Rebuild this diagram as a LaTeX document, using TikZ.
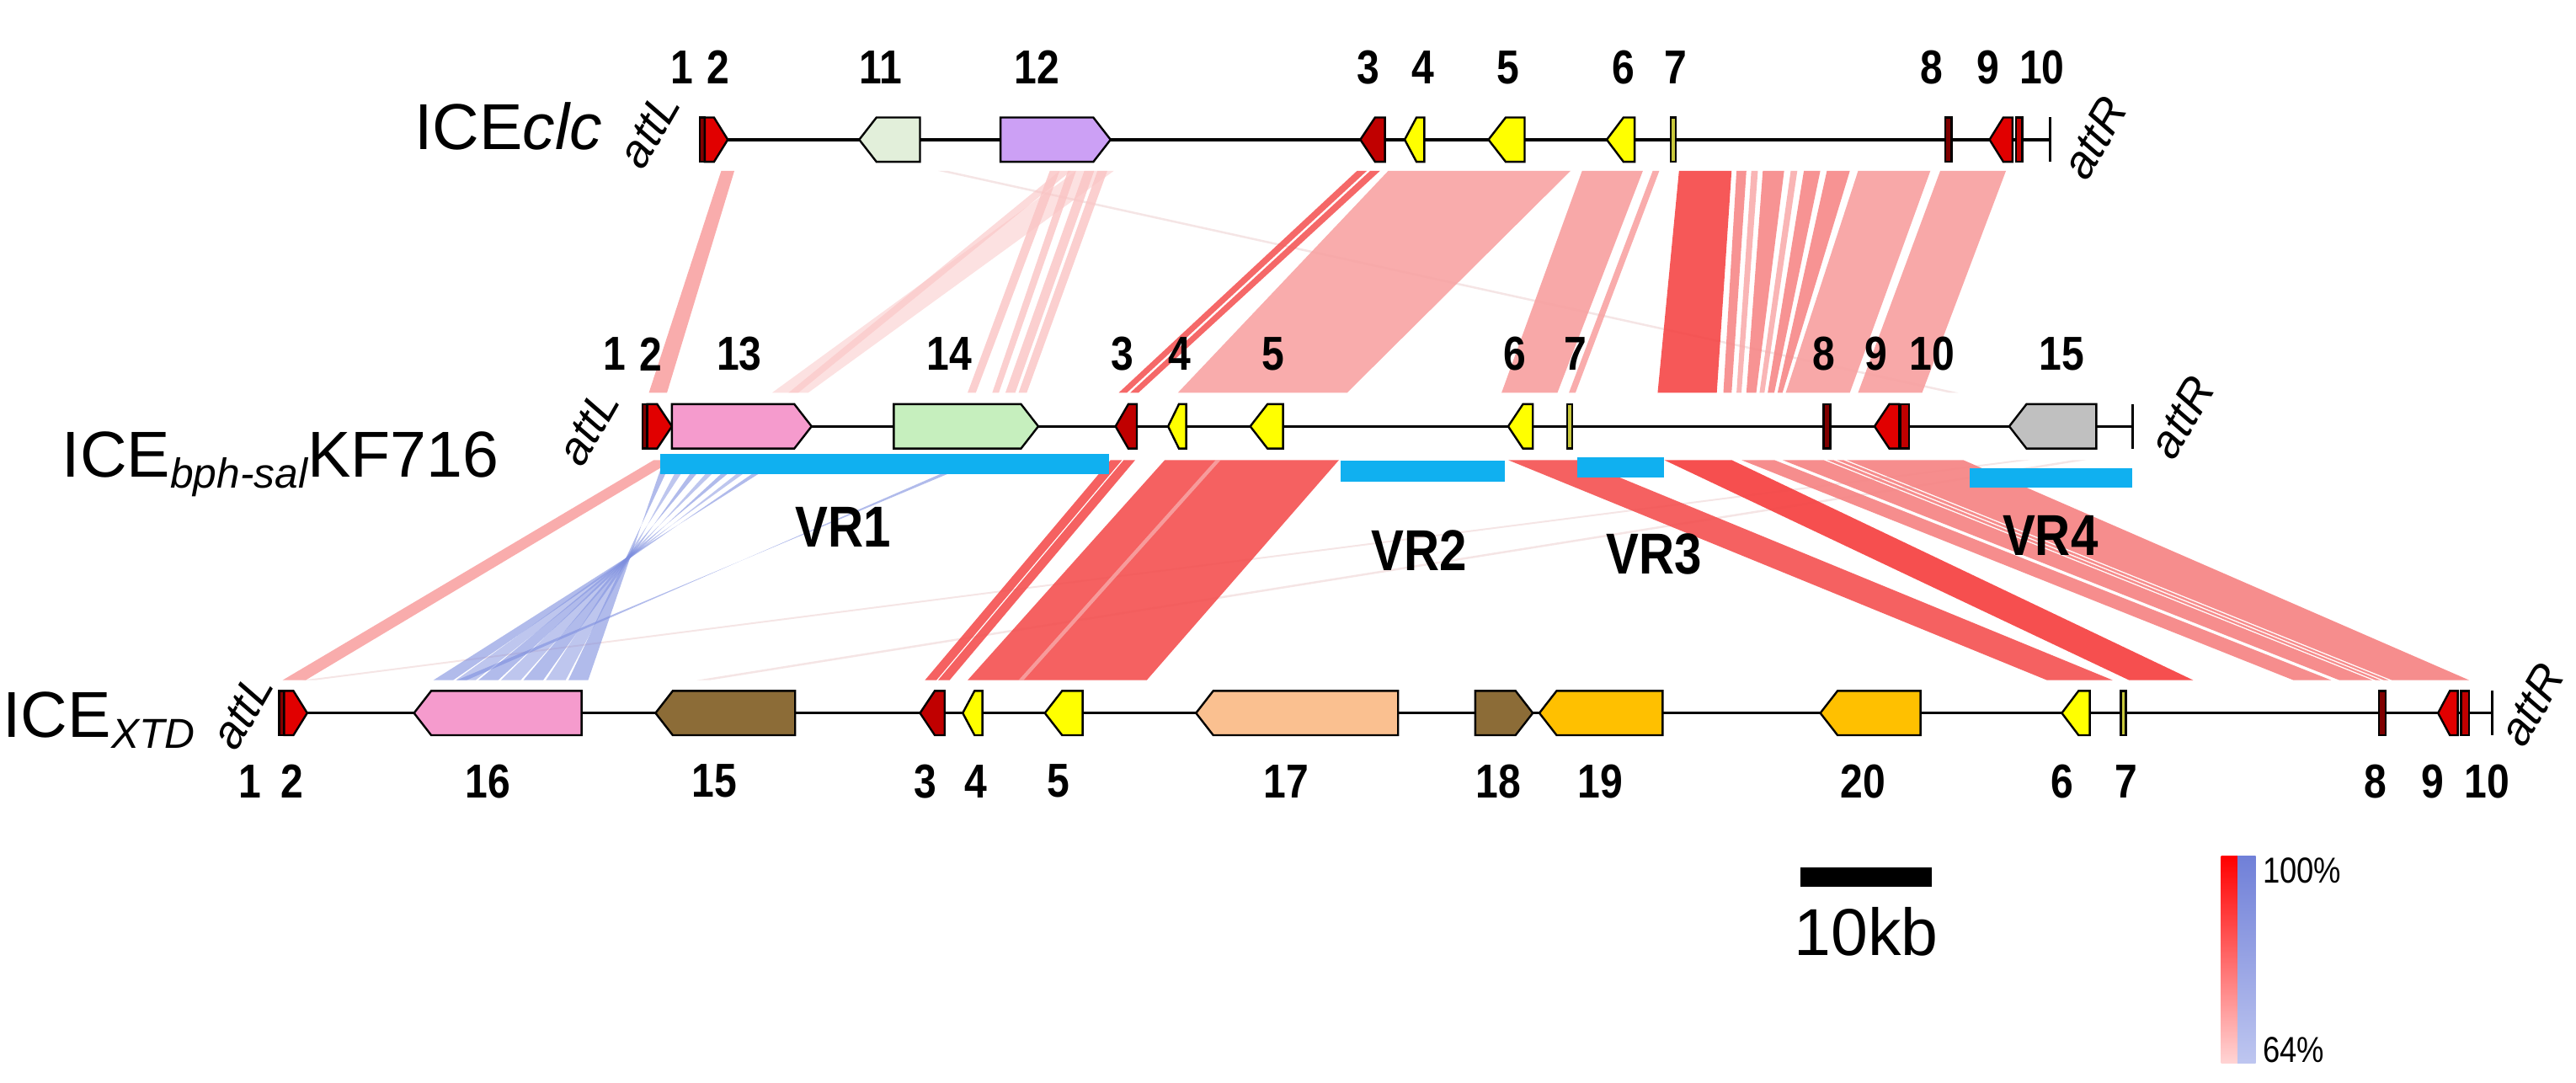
\documentclass[tikz,border=0pt]{standalone}
\usepackage{fontspec}
\setmainfont{Liberation Sans}
\newfontfamily\numfont{Liberation Sans}[FakeStretch=0.85]
\definecolor{rpink}{RGB}{248,163,163}
\definecolor{rlight}{RGB}{250,195,195}
\definecolor{rfaint}{RGB}{238,212,212}
\definecolor{rmid}{RGB}{246,135,135}
\definecolor{rred}{RGB}{244,88,88}
\definecolor{rbright}{RGB}{245,70,70}
\definecolor{bblue}{RGB}{125,142,222}
\definecolor{vrblue}{RGB}{16,176,240}
\definecolor{gred}{RGB}{225,0,0}
\definecolor{gdark}{RGB}{192,0,0}
\definecolor{gmaroon}{RGB}{128,0,0}
\definecolor{gyel}{RGB}{255,255,0}
\definecolor{golive}{RGB}{200,200,60}
\definecolor{gmint}{RGB}{226,239,218}
\definecolor{gpurp}{RGB}{204,160,245}
\definecolor{gpink}{RGB}{245,155,205}
\definecolor{ggreen}{RGB}{198,239,190}
\definecolor{ggray}{RGB}{192,192,192}
\definecolor{gbrown}{RGB}{140,108,55}
\definecolor{gpeach}{RGB}{250,192,144}
\definecolor{ggold}{RGB}{255,192,0}
\definecolor{legpink}{RGB}{255,212,212}
\definecolor{legbtop}{RGB}{112,128,216}
\definecolor{legbbot}{RGB}{190,198,240}
\newcommand{\geneR}[4]{%
  \pgfmathsetmacro\tiplen{min(10.5,0.6*(#2-#1))}%
  \filldraw[gene,fill=#4] (#1,#3-13.5) -- ({#2-\tiplen},#3-13.5) -- (#2,#3) -- ({#2-\tiplen},#3+13.5) -- (#1,#3+13.5) -- cycle;}
\newcommand{\geneL}[4]{%
  \pgfmathsetmacro\tiplen{min(10.5,0.6*(#2-#1))}%
  \filldraw[gene,fill=#4] (#2,#3-13.5) -- ({#1+\tiplen},#3-13.5) -- (#1,#3) -- ({#1+\tiplen},#3+13.5) -- (#2,#3+13.5) -- cycle;}
\newcommand{\geneT}[4]{\filldraw[gene,fill=#4] (#1,#3-13.5) rectangle (#2,#3+13.5);}
\newcommand{\ribT}[5]{\fill[#1] (#2,104) -- (#3,104) -- (#5,239) -- (#4,239) -- cycle;}
\newcommand{\ribB}[5]{\fill[#1] (#2,280) -- (#3,280) -- (#5,414) -- (#4,414) -- cycle;}
\newcommand{\ribX}[5]{\fill[#1] (#2,280) -- (#3,280) -- (#4,414) -- (#5,414) -- cycle;}
\begin{document}
\begin{tikzpicture}[x=0.02cm,y=-0.02cm,
  gene/.style={draw=black,line width=0.7pt,line join=miter},
  trk/.style={line width=1pt,black},
  num/.style={font={\numfont\bfseries\fontsize{16.5}{18}\selectfont},inner sep=0pt},
  vrl/.style={font={\numfont\bfseries\fontsize{20}{22}\selectfont},inner sep=0pt},
  att/.style={font={\itshape\fontsize{16}{18}\selectfont},inner sep=0pt,rotate=60},
  ice/.style={font={\fontsize{22.5}{26}\selectfont},inner sep=0pt},
  vrbar/.style={fill=vrblue}]
\useasboundingbox (0,0) rectangle (1568,659);

% ---------- ribbons: ICEclc -> KF716 ----------
\ribT{rfaint,fill opacity=0.6}{571}{577}{1186}{1192}
\ribT{rpink,fill opacity=0.9}{439}{447}{395}{406}
\ribT{rlight,fill opacity=0.5}{655}{678}{470}{492}
\ribT{rlight,fill opacity=0.6}{645}{652}{480}{486}
\ribT{rlight,fill opacity=0.8}{639}{645}{589}{594}
\ribT{rlight,fill opacity=0.8}{650}{655}{604}{608}
\ribT{rlight,fill opacity=0.8}{660}{666}{612}{618}
\ribT{rlight,fill opacity=0.8}{668}{674}{620}{625}
\ribT{rred,fill opacity=0.9}{826}{832}{681}{686}
\ribT{rred,fill opacity=0.9}{834}{840}{688}{693}
\ribT{rpink,fill opacity=0.9}{845}{956}{717}{820}
\ribT{rpink,fill opacity=0.95}{963}{1000}{914}{948}
\ribT{rpink,fill opacity=0.9}{1006}{1010}{955}{959}
\ribT{rbright,fill opacity=0.9}{1022}{1054}{1009}{1045}
\ribT{rmid,fill opacity=0.9}{1057}{1063}{1049}{1054}
\ribT{rpink,fill opacity=0.8}{1066}{1070}{1057}{1060}
\ribT{rmid,fill opacity=0.9}{1073}{1086}{1063}{1069}
\ribT{rpink,fill opacity=0.8}{1090}{1094}{1071}{1074}
\ribT{rmid,fill opacity=0.9}{1098}{1108}{1076}{1080}
\ribT{rmid,fill opacity=0.9}{1112}{1126}{1082}{1085}
\ribT{rpink,fill opacity=0.95}{1131}{1175}{1087}{1126}
\ribT{rpink,fill opacity=0.95}{1181}{1221}{1131}{1170}

% ---------- ribbons: KF716 -> ICEXTD ----------
\ribB{rfaint,fill opacity=0.6}{1228}{1236}{184}{192}
\ribB{rfaint,fill opacity=0.6}{1262}{1270}{424}{432}
\ribB{rpink,fill opacity=0.9}{398}{410}{172}{186}
\ribX{bblue,fill opacity=0.6}{404}{409}{346}{358}
\ribX{bblue,fill opacity=0.5}{415}{420}{332.3}{344.3}
\ribX{bblue,fill opacity=0.6}{426}{431}{318.6}{330.6}
\ribX{bblue,fill opacity=0.5}{437}{442}{304.9}{316.9}
\ribX{bblue,fill opacity=0.6}{448}{453}{291.2}{303.2}
\ribX{bblue,fill opacity=0.5}{459}{464}{277.5}{289.5}
\ribX{bblue,fill opacity=0.6}{470}{475}{263.8}{275.8}
\ribX{bblue,fill opacity=0.6}{592}{597}{278}{284}
\ribB{rred,fill opacity=0.95}{676}{683}{563}{570}
\ribB{rred,fill opacity=0.95}{684}{691}{571}{578}
\ribB{rred,fill opacity=0.95}{709}{815}{589}{698}
\ribB{rlight,fill opacity=0.6}{740}{743}{620}{623}
\ribB{rred,fill opacity=0.95}{918}{960}{1246}{1286}
\ribB{rbright,fill opacity=0.95}{1013}{1054}{1296}{1335}
\ribB{rmid,fill opacity=0.95}{1060}{1080}{1396}{1419}
\ribB{rmid,fill opacity=0.95}{1085}{1110}{1424}{1444}
\ribB{rmid,fill opacity=0.95}{1112}{1116}{1446}{1449}
\ribB{rmid,fill opacity=0.95}{1118}{1122}{1451}{1454}
\ribB{rmid,fill opacity=0.95}{1124}{1195}{1456}{1503}

% ---------- VR bars ----------
\fill[vrbar] (402,276.5) rectangle (675,288.5);
\fill[vrbar] (816,280.5) rectangle (916,293);
\fill[vrbar] (960,278.5) rectangle (1013,290.5);
\fill[vrbar] (1199,285) rectangle (1298,297);

% ---------- track lines ----------
\draw[trk] (426,85) -- (1248,85);
\draw[trk] (1248,71.5) -- (1248,98.5);
\draw[trk] (391,259.5) -- (1298,259.5);
\draw[trk] (1298,246) -- (1298,273);
\draw[trk] (170,434) -- (1517,434);
\draw[trk] (1517,420.5) -- (1517,447.5);

% ---------- genes: ICEclc ----------
\geneT{426}{429}{85}{gmaroon}
\geneR{429}{443}{85}{gred}
\geneL{523}{560}{85}{gmint}
\geneR{609}{676}{85}{gpurp}
\geneL{828}{843}{85}{gdark}
\geneL{855}{867}{85}{gyel}
\geneL{906}{928}{85}{gyel}
\geneL{978}{995}{85}{gyel}
\geneT{1017}{1020}{85}{golive}
\geneT{1184}{1188}{85}{gmaroon}
\geneL{1211}{1225}{85}{gred}
\geneT{1227}{1231}{85}{gdark}

% ---------- genes: KF716 ----------
\geneT{391}{394}{259.5}{gmaroon}
\geneR{394}{409}{259.5}{gred}
\geneR{409}{494}{259.5}{gpink}
\geneR{544}{632}{259.5}{ggreen}
\geneL{679}{692}{259.5}{gdark}
\geneL{711}{722}{259.5}{gyel}
\geneL{761}{781}{259.5}{gyel}
\geneL{918}{933}{259.5}{gyel}
\geneT{954}{957}{259.5}{golive}
\geneT{1110}{1114}{259.5}{gmaroon}
\geneL{1141}{1156}{259.5}{gred}
\geneT{1157}{1162}{259.5}{gdark}
\geneL{1223}{1276}{259.5}{ggray}

% ---------- genes: ICEXTD ----------
\geneT{170}{173}{434}{gmaroon}
\geneR{173}{187}{434}{gred}
\geneL{252}{354}{434}{gpink}
\geneL{399}{484}{434}{gbrown}
\geneL{560}{575}{434}{gdark}
\geneL{586}{598}{434}{gyel}
\geneL{636}{659}{434}{gyel}
\geneL{728}{851}{434}{gpeach}
\geneR{898}{933}{434}{gbrown}
\geneL{937}{1012}{434}{ggold}
\geneL{1108}{1169}{434}{ggold}
\geneL{1255}{1272}{434}{gyel}
\geneT{1291}{1294}{434}{golive}
\geneT{1448}{1452}{434}{gmaroon}
\geneL{1484}{1496}{434}{gred}
\geneT{1498}{1503}{434}{gdark}

% ---------- track names ----------
\node[ice,anchor=base west] (nclc) at (252,91) {ICE\textit{clc}};
\node[ice,anchor=base east] (nkf) at (304,290.6) {ICE\raisebox{-3.7pt}{\fontsize{14.5}{15}\selectfont\itshape bph-sal}KF716};
\node[ice,anchor=base east] (nxtd) at (119,449) {ICE\raisebox{-3.7pt}{\fontsize{14.5}{15}\selectfont\itshape XTD}};

% ---------- att sites ----------
\node[att] (aL1) at (395,79) {attL};
\node[att] (aR1) at (1275,84) {attR};
\node[att] (aL2) at (358,260) {attL};
\node[att] (aR2) at (1328,254) {attR};
\node[att] (aL3) at (147.5,433) {attL};
\node[att] (aR3) at (1541,429) {attR};

% ---------- gene numbers ----------
\node[num] (t1) at (415,41) {1};
\node[num] (t2) at (437,41) {2};
\node[num] (t11) at (536,41) {11};
\node[num] (t12) at (631,41) {12};
\node[num] (t3) at (833,41) {3};
\node[num] (t4) at (866,41) {4};
\node[num] (t5) at (918,41) {5};
\node[num] (t6) at (988,41) {6};
\node[num] (t7) at (1020,41) {7};
\node[num] (t8) at (1176,41) {8};
\node[num] (t9) at (1210,41) {9};
\node[num] (t10) at (1243,41) {10};

\node[num] (m1) at (374,215.5) {1};
\node[num] (m2) at (396,215.5) {2};
\node[num] (m13) at (450,215.5) {13};
\node[num] (m14) at (578,215.5) {14};
\node[num] (m3) at (683,215.5) {3};
\node[num] (m4) at (718,215.5) {4};
\node[num] (m5) at (775,215.5) {5};
\node[num] (m6) at (922,215.5) {6};
\node[num] (m7) at (959,215.5) {7};
\node[num] (m8) at (1110,215.5) {8};
\node[num] (m9) at (1142,215.5) {9};
\node[num] (m10) at (1176,215.5) {10};
\node[num] (m15) at (1255,215.5) {15};

\node[num] (b1) at (152,475.5) {1};
\node[num] (b2) at (178,475.5) {2};
\node[num] (b16) at (297,475.5) {16};
\node[num] (b15) at (435,475.5) {15};
\node[num] (b3) at (563,475.5) {3};
\node[num] (b4) at (594,475.5) {4};
\node[num] (b5) at (644,475.5) {5};
\node[num] (b17) at (783,475.5) {17};
\node[num] (b18) at (912,475.5) {18};
\node[num] (b19) at (974,475.5) {19};
\node[num] (b20) at (1134,475.5) {20};
\node[num] (b6) at (1255,475.5) {6};
\node[num] (b7) at (1294,475.5) {7};
\node[num] (b8) at (1446,475.5) {8};
\node[num] (b9) at (1481,475.5) {9};
\node[num] (b10) at (1514,475.5) {10};

% ---------- VR labels ----------
\node[vrl] (vr1) at (513,321) {VR1};
\node[vrl] (vr2) at (864,335) {VR2};
\node[vrl] (vr3) at (1007,337) {VR3};
\node[vrl] (vr4) at (1248,326) {VR4};

% ---------- scale bar ----------
\fill[black] (1096,528) rectangle (1176,540);
\node[inner sep=0pt,font={\fontsize{23}{26}\selectfont}] (kb) at (1136,567) {10kb};

% ---------- identity legend ----------
\shade[top color=red,bottom color=legpink] (1352,521) rectangle (1362,647);
\shade[top color=legbtop,bottom color=legbbot] (1362,521) rectangle (1373,647);
\node[anchor=west,inner sep=0pt,font={\numfont\fontsize{12.5}{14}\selectfont}] (p100) at (1377,530) {100\%};
\node[anchor=west,inner sep=0pt,font={\numfont\fontsize{12.5}{14}\selectfont}] (p64) at (1377,639) {64\%};
\end{tikzpicture}
\end{document}
